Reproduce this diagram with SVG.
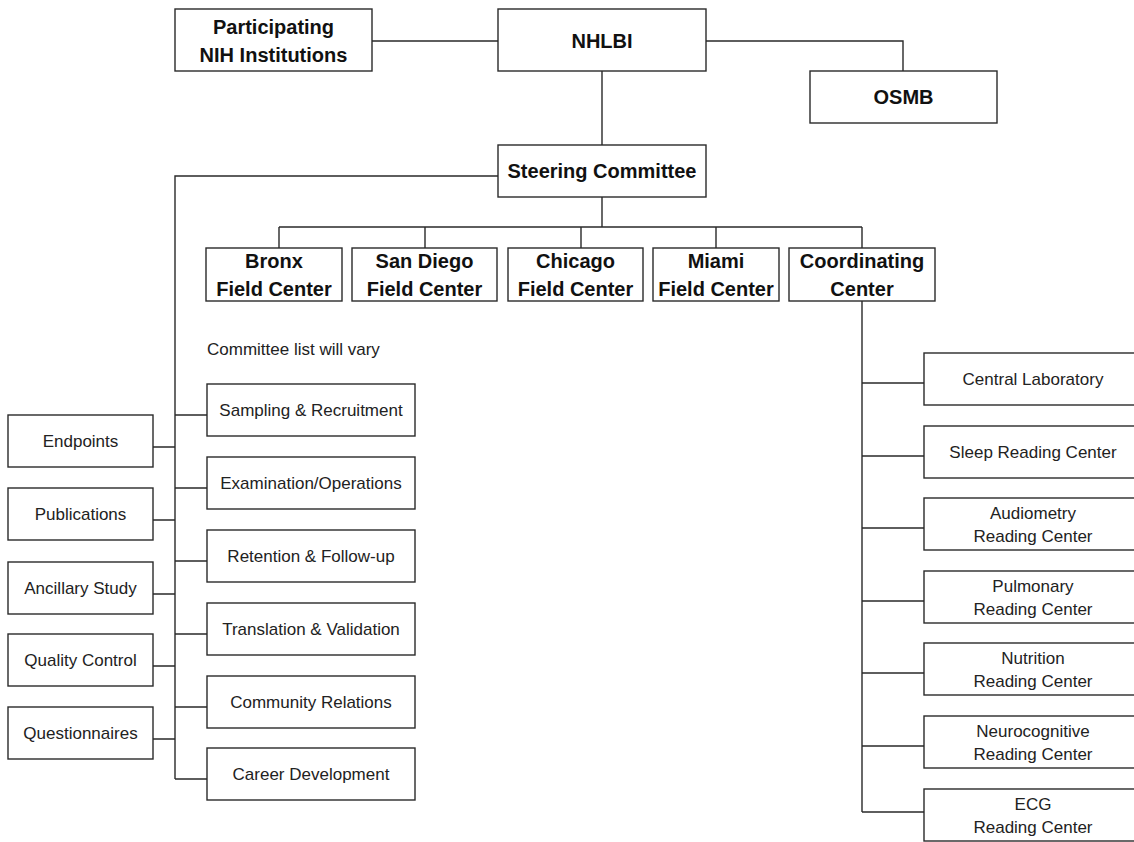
<svg xmlns="http://www.w3.org/2000/svg" width="1134" height="842" viewBox="0 0 1134 842">
<style>
.b{fill:#fff;stroke:#2a2a2a;stroke-width:1.4}
.c{fill:none;stroke:#2a2a2a;stroke-width:1.4}
.t{font-family:"Liberation Sans",Arial,sans-serif;font-size:20px;font-weight:bold;fill:#111;text-anchor:middle}
.s{font-family:"Liberation Sans",Arial,sans-serif;font-size:17px;fill:#222;text-anchor:middle}
</style>
<rect width="1134" height="842" fill="#fff"/>
<g id="connectors">
<path class="c" d="M372 41H498M706 41H903V71M602 71V145M498 176H175V779M602 197V227M279 227H862M279 227V248M425 227V248M581 227V248M716 227V248M862 227V248M862 301V812"/>
<path class="c" d="M175 415H207M175 488H207M175 561H207M175 634H207M175 707H207M175 779H207"/>
<path class="c" d="M153 447H175M153 520H175M153 594H175M153 666H175M153 739H175"/>
<path class="c" d="M862 383H924M862 456H924M862 528H924M862 601H924M862 673H924M862 746H924M862 812H924"/>
</g>
<g id="participating"><rect class="b" x="175" y="9" width="197" height="62"/><text class="t" x="273.5" y="34">Participating</text><text class="t" x="273.5" y="62">NIH Institutions</text></g>
<g id="nhlbi"><rect class="b" x="498" y="9" width="208" height="62"/><text class="t" x="602" y="48">NHLBI</text></g>
<g id="osmb"><rect class="b" x="810" y="71" width="187" height="52"/><text class="t" x="903.5" y="104">OSMB</text></g>
<g id="steering"><rect class="b" x="498" y="145" width="208" height="52"/><text class="t" x="602" y="178">Steering Committee</text></g>
<g id="bronx"><rect class="b" x="206" y="248" width="136" height="53"/><text class="t" x="274" y="268">Bronx</text><text class="t" x="274" y="296">Field Center</text></g>
<g id="sandiego"><rect class="b" x="352" y="248" width="145" height="53"/><text class="t" x="424.5" y="268">San Diego</text><text class="t" x="424.5" y="296">Field Center</text></g>
<g id="chicago"><rect class="b" x="508" y="248" width="135" height="53"/><text class="t" x="575.5" y="268">Chicago</text><text class="t" x="575.5" y="296">Field Center</text></g>
<g id="miami"><rect class="b" x="653" y="248" width="126" height="53"/><text class="t" x="716" y="268">Miami</text><text class="t" x="716" y="296">Field Center</text></g>
<g id="coordinating"><rect class="b" x="789" y="248" width="146" height="53"/><text class="t" x="862" y="268">Coordinating</text><text class="t" x="862" y="296">Center</text></g>
<g id="note"><text class="s" x="207" y="355" style="text-anchor:start">Committee list will vary</text></g>
<g id="sampling"><rect class="b" x="207" y="384" width="208" height="52"/><text class="s" x="311" y="416">Sampling &amp; Recruitment</text></g>
<g id="examination"><rect class="b" x="207" y="457" width="208" height="52"/><text class="s" x="311" y="489">Examination/Operations</text></g>
<g id="retention"><rect class="b" x="207" y="530" width="208" height="52"/><text class="s" x="311" y="562">Retention &amp; Follow-up</text></g>
<g id="translation"><rect class="b" x="207" y="603" width="208" height="52"/><text class="s" x="311" y="635">Translation &amp; Validation</text></g>
<g id="community"><rect class="b" x="207" y="676" width="208" height="52"/><text class="s" x="311" y="708">Community Relations</text></g>
<g id="career"><rect class="b" x="207" y="748" width="208" height="52"/><text class="s" x="311" y="780">Career Development</text></g>
<g id="endpoints"><rect class="b" x="8" y="415" width="145" height="52"/><text class="s" x="80.5" y="447">Endpoints</text></g>
<g id="publications"><rect class="b" x="8" y="488" width="145" height="52"/><text class="s" x="80.5" y="520">Publications</text></g>
<g id="ancillary"><rect class="b" x="8" y="562" width="145" height="52"/><text class="s" x="80.5" y="594">Ancillary Study</text></g>
<g id="quality"><rect class="b" x="8" y="634" width="145" height="52"/><text class="s" x="80.5" y="666">Quality Control</text></g>
<g id="questionnaires"><rect class="b" x="8" y="707" width="145" height="52"/><text class="s" x="80.5" y="739">Questionnaires</text></g>
<g id="central"><rect class="b" x="924" y="353" width="218" height="52"/><text class="s" x="1033" y="385">Central Laboratory</text></g>
<g id="sleep"><rect class="b" x="924" y="426" width="218" height="52"/><text class="s" x="1033" y="458">Sleep Reading Center</text></g>
<g id="audiometry"><rect class="b" x="924" y="498" width="218" height="52"/><text class="s" x="1033" y="519">Audiometry</text><text class="s" x="1033" y="542">Reading Center</text></g>
<g id="pulmonary"><rect class="b" x="924" y="571" width="218" height="52"/><text class="s" x="1033" y="592">Pulmonary</text><text class="s" x="1033" y="615">Reading Center</text></g>
<g id="nutrition"><rect class="b" x="924" y="643" width="218" height="52"/><text class="s" x="1033" y="664">Nutrition</text><text class="s" x="1033" y="687">Reading Center</text></g>
<g id="neurocognitive"><rect class="b" x="924" y="716" width="218" height="52"/><text class="s" x="1033" y="737">Neurocognitive</text><text class="s" x="1033" y="760">Reading Center</text></g>
<g id="ecg"><rect class="b" x="924" y="789" width="218" height="52"/><text class="s" x="1033" y="810">ECG</text><text class="s" x="1033" y="833">Reading Center</text></g>
</svg>
